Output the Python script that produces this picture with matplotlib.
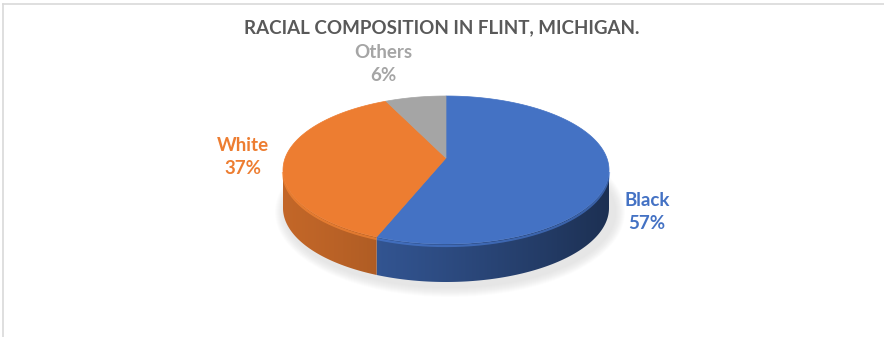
#!/usr/bin/env python3
"""Excel-style 3D pie: racial composition in Flint, Michigan."""
import numpy as np
import matplotlib

matplotlib.use("Agg")
import matplotlib.pyplot as plt
from matplotlib.patches import Polygon, Ellipse
from matplotlib.colors import to_rgb

# data
categories = ["Black", "White", "Others"]
shares = [57, 37, 6]
label_texts = ["Black\n57%", "White\n37%", "Others\n6%"]
colors = ["#4472C4", "#ED7D31", "#A5A5A5"]

# layout (pixels, y down)
W, H = 884, 337
CX, CY = 446, 170
RX, RY = 163, 74
DEPTH = 38
APEX_DY = -12
label_pos = [(647, 212), (243, 157), (383, 64)]

fig = plt.figure(figsize=(W / 100, H / 100), dpi=100)
ax = fig.add_axes([0, 0, 1, 1])
ax.set_xlim(0, W)
ax.set_ylim(H, 0)
ax.axis("off")


def rim(theta_deg, dy=0.0):
    t = np.radians(theta_deg)
    return CX + RX * np.sin(t), CY - RY * np.cos(t) + dy


# soft shadow under the pie
for k in range(10):
    ax.add_patch(Ellipse((CX + 4, CY + DEPTH + 4), 2 * RX + 24 - 2 * k, 2 * RY + 22 - 2 * k,
                         facecolor="0.55", edgecolor="none", alpha=0.02, zorder=1))

bounds = np.concatenate([[0], np.cumsum(shares)]) / sum(shares) * 360.0

# horizontal shading ramp for the side wall: lighter on the left, dark on the right
xg = np.linspace(CX - RX, CX + RX, 400)
ramp = 0.82 - 0.40 * ((xg - (CX - RX)) / (2 * RX)) ** 1.3

# side faces (front half only, theta 90..270 clockwise from top)
for i, c in enumerate(colors):
    a0, a1 = max(bounds[i], 90), min(bounds[i + 1], 270)
    if a1 <= a0:
        continue
    base = np.array(to_rgb(c))
    th = np.linspace(a0, a1, 300)
    xt, yt = rim(th)
    xb, yb = rim(th[::-1], DEPTH)
    wall = Polygon(list(zip(xt, yt)) + list(zip(xb, yb)), closed=True,
                   facecolor="none", edgecolor="none")
    ax.add_patch(wall)
    img = np.clip(ramp[None, :, None] * base[None, None, :], 0, 1)
    im = ax.imshow(img, extent=(CX - RX, CX + RX, CY + RY + DEPTH + 2, CY - 2),
                   aspect="auto", interpolation="bilinear", zorder=2)
    im.set_clip_path(wall)
    # bevel highlight along the top rim
    xs, ys = rim(np.linspace(a0, a1, 200), 2.0)
    ax.plot(xs, ys, color=np.minimum(base * 1.12, 1), lw=1.6, alpha=0.6, zorder=3,
            solid_capstyle="butt")

# top faces
for i, c in enumerate(colors):
    th = np.linspace(bounds[i], bounds[i + 1], 200)
    xs, ys = rim(th)
    pts = [(CX, CY + APEX_DY)] + list(zip(xs, ys))
    ax.add_patch(Polygon(pts, closed=True, facecolor=c, edgecolor=c, lw=0.5, zorder=4))

# data labels
for (x, y), txt, c in zip(label_pos, label_texts, colors):
    ax.text(x, y, txt, color=c, fontsize=13.5, fontweight="bold", family="Lato",
            ha="center", va="center", linespacing=1.4, zorder=5)

ax.text(442, 28, "RACIAL COMPOSITION IN FLINT, MICHIGAN.", color="#595959",
        fontsize=13.5, fontweight="bold", family="Lato", ha="center", va="center")

# chart area border (top and left visible)
ax.plot([3, W], [4, 4], color="#D9D9D9", lw=1.2, clip_on=False)
ax.plot([3, 3], [4, H], color="#D9D9D9", lw=1.2, clip_on=False)

ax.set_xlim(0, W)
ax.set_ylim(H, 0)
fig.savefig("out.png", dpi=100)
